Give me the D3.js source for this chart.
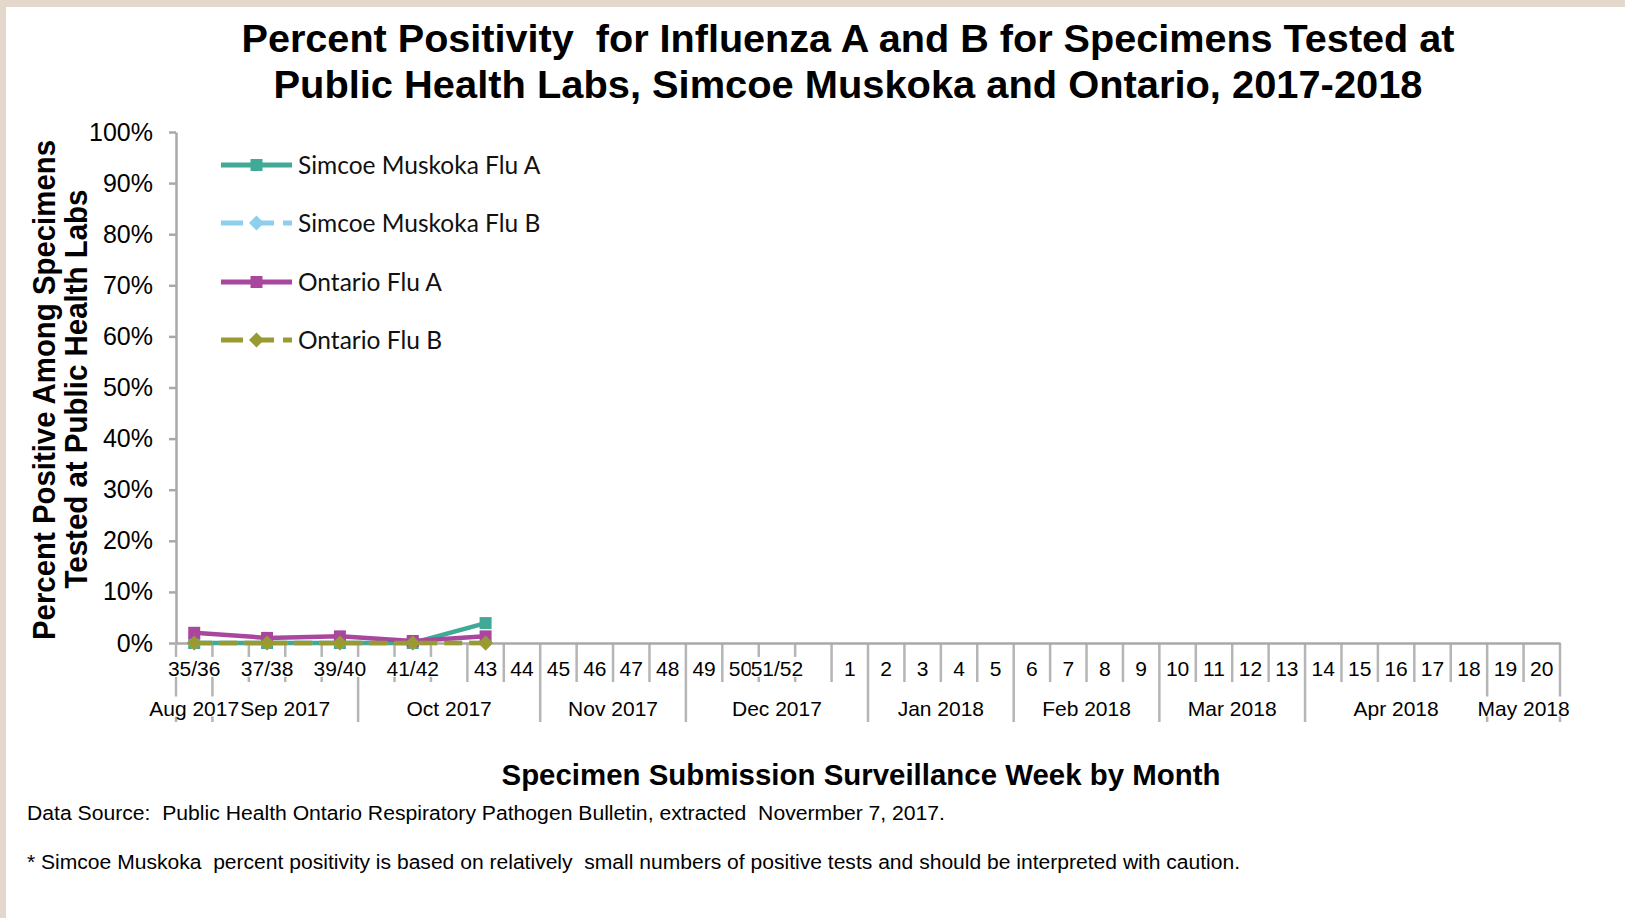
<!DOCTYPE html>
<meta charset="utf-8">
<style>
  body { margin: 0; background: #fff; }
  text { font-family: "Liberation Sans", Arial, sans-serif; fill: #000; white-space: pre; }
  .axis path, .axis line { stroke: #a9a9a9; stroke-width: 2.5px; }
  .axis text { font-size: 25px; fill: #000; }
  .legend text { font-family: Lato, "Open Sans", sans-serif; font-size: 24.5px; fill: #111; }
</style>
<body>
<script src="https://d3js.org/d3.v7.min.js"></script>
<script>

// week categories (blank slots are the second week of a pair)
var weeks = ["35/36", "", "37/38", "", "39/40", "", "41/42", "", "43", "44",
  "45", "46", "47", "48", "49", "50", "51/52", "", "1", "2", "3", "4", "5",
  "6", "7", "8", "9", "10", "11", "12", "13", "14", "15", "16", "17", "18", "19", "20"];

var months = ["Aug 2017", "Sep 2017", "Oct 2017", "Nov 2017", "Dec 2017",
  "Jan 2018", "Feb 2018", "Mar 2018", "Apr 2018", "May 2018"];
var monthWeeks = [1, 4, 5, 4, 5, 4, 4, 4, 5, 2];

// percent positive, by category index (null = no point)
var smFluA = [0, null, 0, null, 0, null, 0, null, 3.9];
var smFluB = [0, null, 0, null, 0, null, 0, null, 0];
var onFluA = [2.0, null, 1.0, null, 1.3, null, 0.4, null, 1.3];
var onFluB = [0, null, 0, null, 0, null, 0, null, 0];

var yTicks = [0, 10, 20, 30, 40, 50, 60, 70, 80, 90, 100];

var series = [
  {name: "Simcoe Muskoka Flu A", values: smFluA, color: "#41aa96", dash: null, marker: "square"},
  {name: "Simcoe Muskoka Flu B", values: smFluB, color: "#8ecfee", dash: "18,7", marker: "diamond"},
  {name: "Ontario Flu A", values: onFluA, color: "#a9479f", dash: null, marker: "square"},
  {name: "Ontario Flu B", values: onFluB, color: "#9a9a33", dash: "18,7", marker: "diamond"}
];

var width = 1625,
    height = 918;

var svg = d3.select("body").append("svg")
  .attr("width", width)
  .attr("height", height);

// beige frame on the top and left
svg.append("rect").attr("width", width).attr("height", height).attr("fill", "#e4d8cc");
svg.append("rect").attr("x", 6).attr("y", 7).attr("width", width - 6).attr("height", height - 7).attr("fill", "#fff");

var x = d3.scaleBand()
  .domain(d3.range(weeks.length))
  .range([176, 1560]);

var y = d3.scaleLinear()
  .domain([0, 100])
  .range([643, 132]);

function condense(text, len) {
  text.attr("textLength", len).attr("lengthAdjust", "spacingAndGlyphs");
}

// white box behind a label, so it hides the divider lines like Excel does
function backing(text) {
  text.each(function() {
    var node = this;
    if (!node.textContent) return;
    var b = node.getBBox();
    d3.select(node.parentNode).insert("rect", function() { return node; })
      .attr("x", b.x).attr("y", b.y)
      .attr("width", b.width).attr("height", b.height - 3)
      .attr("fill", "#fff");
  });
}

// title
svg.append("text")
  .attr("x", 848).attr("y", 52)
  .attr("text-anchor", "middle")
  .style("font-size", "39px").style("font-weight", "bold")
  .text("Percent Positivity  for Influenza A and B for Specimens Tested at")
  .call(condense, 1213);
svg.append("text")
  .attr("x", 848).attr("y", 97.5)
  .attr("text-anchor", "middle")
  .style("font-size", "39px").style("font-weight", "bold")
  .text("Public Health Labs, Simcoe Muskoka and Ontario, 2017-2018")
  .call(condense, 1149);

// y axis
svg.append("g")
  .attr("class", "axis")
  .attr("transform", "translate(176,0)")
  .call(d3.axisLeft(y)
    .tickValues(yTicks)
    .tickSize(7)
    .tickSizeOuter(0)
    .tickPadding(16)
    .tickFormat(function(d) { return d + "%"; }));

// y title
var yTitle = svg.append("g").style("font-weight", "bold").style("font-size", "31px");
yTitle.append("text")
  .attr("transform", "translate(54.5,390)rotate(-90)")
  .attr("text-anchor", "middle")
  .text("Percent Positive Among Specimens")
  .call(condense, 500);
yTitle.append("text")
  .attr("transform", "translate(86.5,389)rotate(-90)")
  .attr("text-anchor", "middle")
  .text("Tested at Public Health Labs")
  .call(condense, 399);

// category boundaries; month boundaries run down through the month row
var monthStarts = [0];
monthWeeks.forEach(function(n, i) { monthStarts.push(monthStarts[i] + n); });

svg.append("g")
  .selectAll("line")
  .data(d3.range(weeks.length + 1))
  .enter().append("line")
    .attr("x1", function(k) { return x.range()[0] + k * x.step(); })
    .attr("x2", function(k) { return x.range()[0] + k * x.step(); })
    .attr("y1", 643)
    .attr("y2", function(k) { return monthStarts.indexOf(k) >= 0 ? 722 : 682; })
    .attr("stroke", "#b5b5b5")
    .attr("stroke-width", 2.5);

// x axis: week labels
var xAxis = svg.append("g")
  .attr("class", "axis")
  .attr("transform", "translate(0,643)")
  .call(d3.axisBottom(x)
    .tickSize(0)
    .tickSizeOuter(0)
    .tickPadding(18)
    .tickFormat(function(i) { return weeks[i]; }));
xAxis.selectAll("text").style("font-size", "21px").call(backing);

// month labels
svg.append("g")
  .selectAll("g")
  .data(months)
  .enter().append("g")
  .append("text")
    .attr("x", function(d, i) {
      return x.range()[0] + (monthStarts[i] + monthWeeks[i] / 2) * x.step();
    })
    .attr("y", 715.5)
    .attr("text-anchor", "middle")
    .style("font-size", "21px")
    .text(function(d) { return d; })
    .call(backing);

// x title
svg.append("text")
  .attr("x", 861).attr("y", 784.5)
  .attr("text-anchor", "middle")
  .style("font-size", "30px").style("font-weight", "bold")
  .text("Specimen Submission Surveillance Week by Month")
  .call(condense, 719);

// footnotes
svg.append("text")
  .attr("x", 27).attr("y", 820)
  .style("font-size", "20px")
  .text("Data Source:  Public Health Ontario Respiratory Pathogen Bulletin, extracted  Novermber 7, 2017.")
  .call(condense, 918);
svg.append("text")
  .attr("x", 27).attr("y", 868.5)
  .style("font-size", "20px")
  .text("* Simcoe Muskoka  percent positivity is based on relatively  small numbers of positive tests and should be interpreted with caution.")
  .call(condense, 1213);

// markers
var squareSym = d3.symbol().type(d3.symbolSquare).size(144);
var diamondSym = function() {
  var r = 7.5;
  return "M0," + (-r) + "L" + r + ",0L0," + r + "L" + (-r) + ",0Z";
};
function markerPath(s) { return s.marker === "square" ? squareSym() : diamondSym(); }

var line = d3.line()
  .x(function(d) { return x(d.i) + x.bandwidth() / 2; })
  .y(function(d) { return y(d.v); });

var plot = svg.append("g");
series.forEach(function(s) {
  var pts = [];
  s.values.forEach(function(v, i) { if (v !== null) pts.push({i: i, v: v}); });

  var g = plot.append("g");
  g.append("path")
    .datum(pts)
    .attr("d", line)
    .attr("fill", "none")
    .attr("stroke", s.color)
    .attr("stroke-width", 4.5)
    .attr("stroke-dasharray", s.dash);

  g.selectAll(".pt")
    .data(pts)
    .enter().append("path")
      .attr("class", "pt")
      .attr("transform", function(d) {
        return "translate(" + (x(d.i) + x.bandwidth() / 2) + "," + y(d.v) + ")";
      })
      .attr("d", markerPath(s))
      .attr("fill", s.color);
});

// legend
var legendY = [165, 223, 282, 340];
var legend = svg.append("g").attr("class", "legend");
series.forEach(function(s, i) {
  var g = legend.append("g").attr("transform", "translate(0," + legendY[i] + ")");
  g.append("line")
    .attr("x1", 221).attr("x2", 292)
    .attr("stroke", s.color)
    .attr("stroke-width", 5)
    .attr("stroke-dasharray", s.dash ? "22,9" : null);
  g.append("path")
    .attr("transform", "translate(256.5,0)")
    .attr("d", markerPath(s))
    .attr("fill", s.color);
  g.append("text")
    .attr("x", 298)
    .attr("dy", "0.36em")
    .text(s.name);
});

</script>
</body>
</html>
